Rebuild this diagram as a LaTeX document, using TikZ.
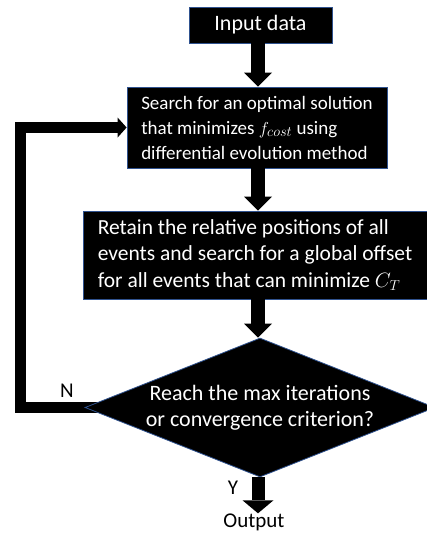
\documentclass[tikz,border=0pt]{standalone}
\usepackage{fontspec}
\setmainfont{Carlito}
\usetikzlibrary{arrows.meta,shapes.geometric,backgrounds}
\definecolor{edgeblue}{HTML}{2F528F}
\tikzset{
  blk/.style={fill=black, draw=edgeblue, line width=0.8pt, text=white, inner sep=0pt},
  toptxt/.style={font=\fontsize{22}{26}\selectfont},
  bigtxt/.style={font=\fontsize{21.5}{26.5}\selectfont},
  midtxt/.style={font=\fontsize{19}{25}\selectfont},
  flow/.style={line width=14pt, -{Triangle[length=14pt,width=28pt,line width=0pt]}},
  loopline/.style={line width=11pt, line join=miter, -{Triangle[length=9pt,width=20pt,line width=0pt]}},
  lbl/.style={font=\fontsize{21}{25}\selectfont, inner sep=0pt}
}
\begin{document}
\begin{tikzpicture}[x=1pt,y=-1pt]
\useasboundingbox (0,0) rectangle (427,533);
\node[blk, toptxt, minimum width=143pt, minimum height=36pt] (in) at (260.5,25) {Input data};
\node[blk, midtxt, minimum width=260pt, minimum height=81pt, align=left] (b2) at (257,127.5)
  {Search for an optimal solution\\that minimizes $f_{cost}$ using\\differential evolution method};
\node[blk, bigtxt, minimum width=344pt, minimum height=88pt, align=left] (b3) at (255,255)
  {Retain the relative positions of all\\events and search for a global offset\\for all events that can minimize $C_T$};
\node[blk, toptxt, diamond, shape aspect=2.5, minimum width=350pt, minimum height=139pt, align=center] (d) at (260,407.5)
  {Reach the max iterations\\or convergence criterion?};
\node[lbl] (out) at (254,522) {Output};
\node[lbl] (n) at (67,391) {N};
\node[lbl] (y) at (233,488) {Y};
\coordinate (ax) at (258,0);
\coordinate (lx) at (20,0);
\draw[flow] (ax |- in.south) -- (ax |- b2.north);
\draw[flow] (ax |- b2.south) -- (ax |- b3.north);
\draw[flow] (ax |- b3.south) -- (ax |- d.north);
\draw[flow, line width=13pt, -{Triangle[length=13pt,width=31pt,line width=0pt]}] (ax |- d.south) -- (ax |- out.north);
\begin{scope}[on background layer]
\draw[loopline] ([xshift=15pt]d.west) -- (lx |- d.west) -- (lx |- b2.west) -- (b2.west);
\end{scope}
\end{tikzpicture}
\end{document}
